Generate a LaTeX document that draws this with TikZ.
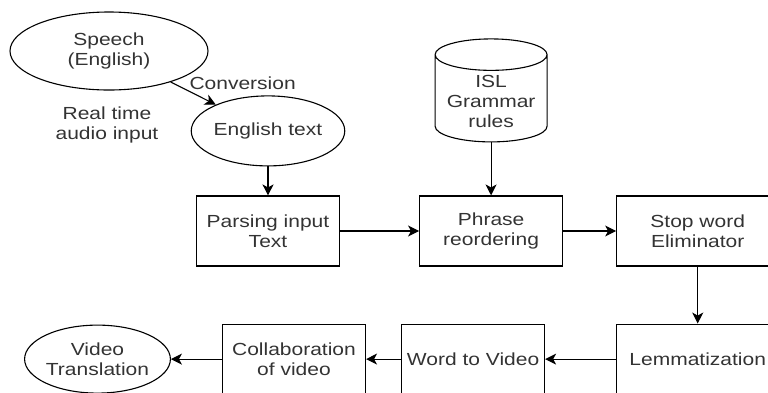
\documentclass[tikz,border=0pt]{standalone}
\usepackage{fontspec}
\setmainfont{Liberation Sans}[FakeStretch=1.2]
\usetikzlibrary{arrows.meta,positioning,shapes.geometric}

\begin{document}
\begin{tikzpicture}[x=1pt, y=1pt,
        >=Stealth, font=\fontsize{17.5}{20}\selectfont, text=black!80,
        box/.style={draw, line width=1.1pt, align=center, inner sep=2pt,
            minimum height=70pt, minimum width=143pt},
        wbox/.style={box, minimum width=162pt},
        oval/.style={draw, line width=1.1pt, ellipse, align=center, inner sep=0pt},
        db/.style={draw, line width=1.1pt, cylinder, shape border rotate=90,
            aspect=0.33, align=center, minimum width=112pt, minimum height=103pt},
        line/.style={-{Stealth[length=11pt, width=11pt, inset=3pt]}, line width=1.1pt}]
        \useasboundingbox (0,0) rectangle (768,-392);
        \node[box] at (268,-231) (parse) {Parsing input\\ Text};
        \node[box, right=79pt of parse] (phrase) {Phrase\\ reordering};
        \node[wbox, right=53pt of phrase] (stop) {Stop word\\ Eliminator};
        \node[wbox, below=57pt of stop] (lemma) {Lemmatization};
        \node[box, left=71pt of lemma] (w2v) {Word to Video};
        \node[box, left=35pt of w2v] (collab) {Collaboration\\ of video};
        \node[oval, left=51pt of collab, minimum width=144pt, minimum height=68pt] (vtrans) {Video\\ Translation};
        \node[oval, above=29pt of parse, minimum width=125pt, minimum height=70pt] (eng) {English text};
        \node[oval, minimum width=198pt, minimum height=78pt] at (109,-51) (speech) {Speech\\ (English)};
        \node[align=center] at (107,-125) (rt) {Real time\\ audio input};
        \node[db, above=53pt of phrase] (isl) {ISL\\ Grammar\\ rules};
        \draw[line] (speech) -- node[pos=0.05, anchor=west, inner sep=0pt, xshift=16pt]{Conversion} (eng);
        \draw[line] (eng) -- (parse);
        \draw[line] (parse) -- (phrase);
        \draw[line] (isl) -- (phrase);
        \draw[line] (phrase) -- (stop);
        \draw[line] (stop) -- (lemma);
        \draw[line] (lemma) -- (w2v);
        \draw[line] (w2v) -- (collab);
        \draw[line] (collab) -- (vtrans);
    \end{tikzpicture}
\end{document}
